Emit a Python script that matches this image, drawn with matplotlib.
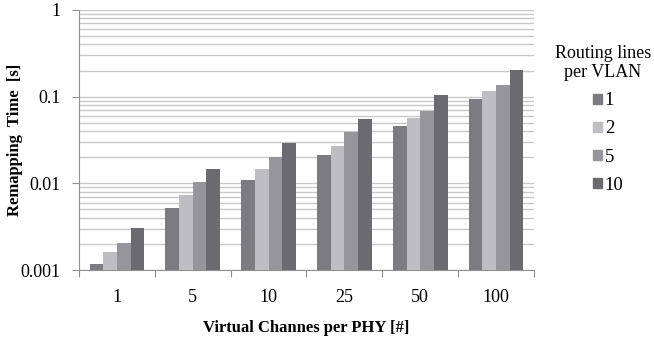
import matplotlib.pyplot as plt
import numpy as np
from matplotlib.patches import Patch

plt.rcParams['font.family'] = ['Liberation Serif', 'DejaVu Serif']

categories = ["1", "5", "10", "25", "50", "100"]
series_names = ["1", "2", "5", "10"]
lines_1 = [0.00108, 0.0051, 0.0108, 0.0211, 0.0452, 0.094]
lines_2 = [0.00153, 0.0072, 0.0145, 0.0266, 0.0569, 0.117]
lines_5 = [0.00197, 0.0102, 0.0199, 0.0389, 0.069, 0.137]
lines_10 = [0.00298, 0.0145, 0.029, 0.0548, 0.1035, 0.203]
series = [lines_1, lines_2, lines_5, lines_10]
colors = ["#7b7b80", "#bebec2", "#96969a", "#6a6a6f"]

fig = plt.figure(figsize=(6.54, 3.41), dpi=100)
ax = fig.add_axes([0.1208, 0.2082, 0.6957, 0.7625])

x = np.arange(len(categories))
w = 0.18
for i, (vals, c) in enumerate(zip(series, colors)):
    ax.bar(x + (i - 1.5) * w, vals, width=w, color=c, bottom=0.0001,
           label=series_names[i], zorder=3)

ax.set_yscale('log')
ax.set_ylim(0.001, 1)
ax.set_xlim(-0.5, len(categories) - 0.5)
ax.grid(True, which='both', axis='y', color='#c8c8c8', linewidth=1.0, zorder=0)

# boundary tick marks and centred labels
ax.set_xticks(np.arange(len(categories) + 1) - 0.5)
ax.set_xticklabels([])
ax.set_xticks(x, minor=True)
ax.set_xticklabels(categories, minor=True, fontsize=13)
ax.tick_params(axis='x', which='major', length=5, color='#909090')
ax.tick_params(axis='x', which='minor', length=0, pad=14)
ax.set_yticks([0.001, 0.01, 0.1, 1])
ax.set_yticklabels(["0.001", "0.01", "0.1", "1"], fontsize=13)
ax.tick_params(axis='y', which='major', length=5, color='#909090', pad=8)
ax.tick_params(axis='y', which='minor', length=0)

for s in ['top', 'right']:
    ax.spines[s].set_visible(False)
for s in ['left', 'bottom']:
    ax.spines[s].set_color('#909090')

ax.set_ylabel("Remapping  Time  [s]", fontsize=12, fontweight='bold')
ax.yaxis.set_label_coords(-0.123, 0.5)
ax.set_xlabel("Virtual Channes per PHY [#]", fontsize=12, fontweight='bold', labelpad=10)

fig.text(0.849, 0.815, "Routing lines\n  per VLAN", fontsize=13, va='center', ha='left',
         linespacing=1.15)
handles = [Patch(color=c, label=n) for c, n in zip(colors, series_names)]
fig.legend(handles=handles, loc='upper left', bbox_to_anchor=(0.895, 0.751),
           frameon=False, fontsize=13.5, handlelength=0.48, handleheight=0.48,
           handletextpad=0.15, labelspacing=0.59, borderaxespad=0)

fig.savefig("out.png", dpi=100)
